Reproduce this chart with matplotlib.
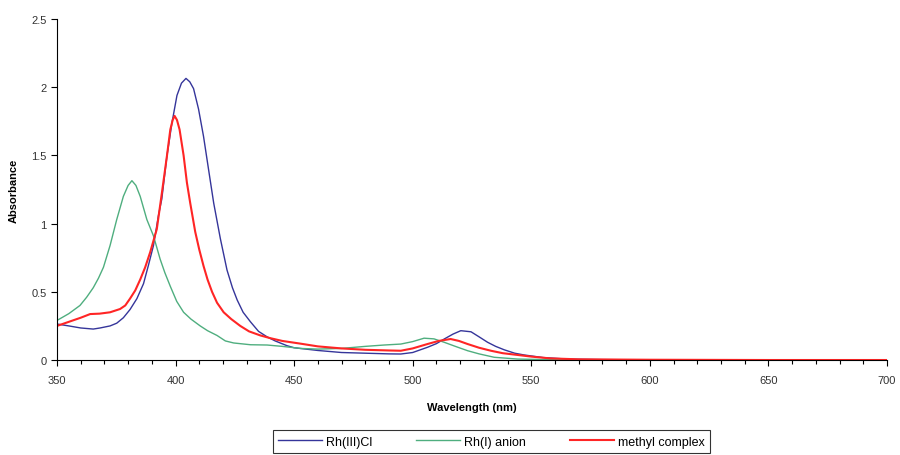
import matplotlib
matplotlib.use("Agg")
import matplotlib.pyplot as plt
import numpy as np

plt.rcParams['font.family'] = ['Liberation Sans', 'DejaVu Sans']

# Rh(III)Cl (blue)
wl_blue = [350, 355, 360, 365.3, 368.2, 372.4, 375.2, 378, 380.8, 383.7, 386.5, 388.5, 390.7, 392.8,
           394.2, 396.4, 398.5, 400.6, 402.5, 404.4, 406, 407.6, 409.7, 411.8, 413.9, 416.1, 418.9,
           421.7, 424, 426, 428.5, 431.6, 435, 438.6, 442, 447, 450,
           460, 470, 480, 490, 495, 500, 506.2, 510, 513.3, 517, 520.3, 524.6, 528, 531.6, 535,
           538.6, 543, 547, 555, 565, 580, 600, 650, 700]
ab_blue = [0.264, 0.25, 0.235, 0.227, 0.235, 0.25, 0.27, 0.31, 0.37, 0.45, 0.56, 0.69, 0.84, 1.06,
           1.18, 1.50, 1.74, 1.94, 2.03, 2.065, 2.04, 1.99, 1.84, 1.64, 1.40, 1.15, 0.89,
           0.66, 0.53, 0.44, 0.35, 0.28, 0.21, 0.17, 0.14, 0.105, 0.09,
           0.07, 0.055, 0.05, 0.045, 0.044, 0.055, 0.093, 0.12, 0.154, 0.19, 0.215, 0.207, 0.17, 0.13, 0.10,
           0.075, 0.05, 0.037, 0.018, 0.007, 0.003, 0.001, 0.0, 0.0]

# Rh(I) anion (green)
wl_green = [350, 355, 359.7, 362.5, 365.3, 367.5, 369.6, 372.4, 375.2, 378, 380, 381.6, 383.3,
            385.1, 387.9, 390.7, 393.5, 395.5, 397.8, 400.5, 403.4, 406.5, 410.4, 413.5, 417.5,
            421, 424.5, 431.6, 438.6, 445, 452.7, 460, 470, 480,
            488, 495, 500, 504.8, 509, 513.3, 518, 523.2, 528, 534.4, 544.3, 560, 600, 650, 700]
ab_green = [0.29, 0.34, 0.40, 0.46, 0.53, 0.60, 0.68, 0.84, 1.03, 1.20, 1.28, 1.315, 1.28,
            1.20, 1.03, 0.91, 0.74, 0.64, 0.54, 0.43, 0.35, 0.30, 0.25, 0.215, 0.18,
            0.14, 0.125, 0.112, 0.11, 0.10, 0.085, 0.08, 0.085, 0.10,
            0.11, 0.117, 0.135, 0.16, 0.155, 0.13, 0.10, 0.068, 0.045, 0.02, 0.007, 0.002, 0.0, 0.0, 0.0]

# methyl complex (red)
wl_red = [350, 355, 360, 364, 368, 372.4, 376.6, 378.8, 380.8, 383, 385.1, 387.2, 389.3, 392.1,
          394.2, 396.4, 397.8, 398.8, 399.6, 400.6, 401.7, 403.4, 404.8, 406.2, 408.3, 410, 411.8,
          413.5, 415.4, 417.5, 420.3, 423.5, 427.3, 431, 435.8, 440, 445, 452.7, 460, 470, 480, 490,
          495, 500, 506.2, 511, 516, 519.5, 523.2, 528, 533, 538, 544.3, 550, 558, 570, 600,
          650, 700]
ab_red = [0.25, 0.28, 0.31, 0.337, 0.34, 0.35, 0.374, 0.40, 0.45, 0.51, 0.59, 0.68, 0.79, 0.96,
          1.22, 1.50, 1.69, 1.76, 1.79, 1.76, 1.69, 1.50, 1.30, 1.15, 0.94, 0.81, 0.69,
          0.59, 0.50, 0.42, 0.35, 0.30, 0.25, 0.21, 0.18, 0.16, 0.14, 0.12, 0.10, 0.085, 0.075, 0.07,
          0.068, 0.085, 0.117, 0.14, 0.154, 0.14, 0.117, 0.09, 0.068, 0.05, 0.037, 0.025, 0.012, 0.005, 0.002,
          0.0, 0.0]

x_ticks = [350, 400, 450, 500, 550, 600, 650, 700]
y_ticks = [0, 0.5, 1, 1.5, 2, 2.5]
y_labels = ['0', '0.5', '1', '1.5', '2', '2.5']

fig = plt.figure(figsize=(9, 4.56), dpi=100)
ax = fig.add_axes([0.0633, 0.2083, 0.9222, 0.7477])

ax.plot(wl_blue, ab_blue, color='#35359a', lw=1.0, label='Rh(III)Cl')
ax.plot(wl_green, ab_green, color='#4fae7f', lw=1.0, label='Rh(I) anion')
ax.plot(wl_red, ab_red, color='#ff2525', lw=1.5, label='methyl complex')

ax.set_xlim(350, 700)
ax.set_ylim(0, 2.5)
ax.set_xticks(x_ticks)
ax.set_xticks(np.arange(350, 701, 10), minor=True)
ax.set_yticks(y_ticks)
ax.set_yticklabels(y_labels)
ax.tick_params(axis='both', direction='out', labelsize=8, colors='black', labelcolor='#333333',
               length=4, width=0.8)
ax.tick_params(axis='x', pad=7)
ax.tick_params(axis='x', which='minor', direction='out', length=3, width=0.8)
ax.spines['top'].set_visible(False)
ax.spines['right'].set_visible(False)
ax.spines['left'].set_color('black')
ax.spines['bottom'].set_color('black')

ax.set_xlabel('Wavelength (nm)', fontsize=8, fontweight='bold', labelpad=12)
ax.set_ylabel('Absorbance', fontsize=8, fontweight='bold', labelpad=9)

leg = fig.legend(loc='upper left', bbox_to_anchor=(0.303, 0.0, 0.486, 0.0548),
                 mode='expand', ncol=3, fontsize=9, frameon=True, fancybox=False,
                 edgecolor='black', handlelength=3.5, handletextpad=0.3, borderpad=0.45,
                 columnspacing=1.5, borderaxespad=0.0)
leg.get_frame().set_linewidth(0.8)

fig.savefig('out.png', dpi=100)
